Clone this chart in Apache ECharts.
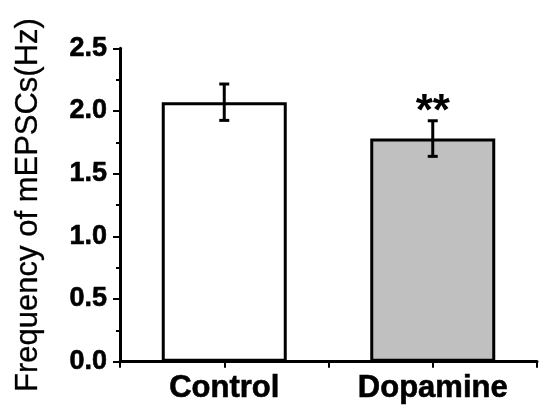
<!DOCTYPE html>
<html>
<head>
<meta charset="utf-8">
<script src="https://cdn.jsdelivr.net/npm/echarts@6/dist/echarts.min.js"></script>
<style>
  html, body { margin: 0; padding: 0; background: #fff; }
  #chart { width: 540px; height: 406px; }
</style>
</head>
<body>
<div id="chart"></div>
<script>
// Groups, mean frequencies and their SEM
const groups = ['Control', 'Dopamine'];
const means = [2.07, 1.78];
const sems = [0.145, 0.142];
const marks = ['', '**'];
const fills = ['#ffffff', '#c0c0c0'];

// Y axis range and ticks
const yMin = 0;
const yMax = 2.5;
const yStep = 0.5;

const FONT = 'Liberation Sans, Arial, sans-serif';

// each group sits in the middle of a unit-wide slot on a value x axis
const barData = means.map((m, i) => ({
  value: [i + 0.5, m],
  itemStyle: { color: fills[i] }
}));
const errData = means.map((m, i) => [i + 0.5, m - sems[i], m + sems[i], i]);

const chart = echarts.init(document.getElementById('chart'), null, { renderer: 'canvas' });

const boldText = { textBorderColor: '#000', textBorderWidth: 0.6 };

chart.setOption({
  animation: false,
  backgroundColor: '#fff',
  grid: { left: 120, top: 48.3, bottom: 44.3, right: -2.5, containLabel: false },
  xAxis: {
    type: 'value',
    min: 0,
    max: groups.length,
    interval: 0.5,
    splitLine: { show: false },
    axisLine: { show: true, onZero: false, lineStyle: { color: '#000', width: 3 } },
    axisTick: { show: true, inside: false, length: 6, lineStyle: { color: '#000', width: 2 } },
    axisLabel: Object.assign({
      margin: 11,
      color: '#000',
      fontFamily: FONT,
      fontWeight: 'bold',
      fontSize: 31,
      formatter: v => {
        const i = Math.floor(v);
        return Math.abs(v - i - 0.5) < 1e-6 ? groups[i] : '';
      }
    }, boldText)
  },
  yAxis: {
    type: 'value',
    min: yMin,
    max: yMax,
    interval: yStep,
    name: 'Frequency of mEPSCs(Hz)',
    nameLocation: 'middle',
    nameGap: 76,
    nameTextStyle: { color: '#000', fontFamily: FONT, fontSize: 31, textBorderColor: '#000', textBorderWidth: 0.3 },
    splitLine: { show: false },
    axisLine: { show: true, lineStyle: { color: '#000', width: 3 } },
    axisTick: { show: true, inside: false, length: 7, lineStyle: { color: '#000', width: 2 } },
    minorTick: { show: true, splitNumber: 2, length: 4, lineStyle: { color: '#000', width: 2 } },
    axisLabel: Object.assign({
      margin: 13,
      color: '#000',
      fontFamily: FONT,
      fontWeight: 'bold',
      fontSize: 27,
      formatter: v => v.toFixed(1)
    }, boldText)
  },
  series: [
    {
      type: 'bar',
      barWidth: 125,
      data: barData,
      itemStyle: { borderColor: '#000', borderWidth: 3 },
      z: 2
    },
    {
      type: 'custom',
      data: errData,
      z: 3,
      renderItem: (params, api) => {
        const x = api.value(0);
        const lo = api.coord([x, api.value(1)]);
        const hi = api.coord([x, api.value(2)]);
        const idx = api.value(3);
        const cap = 5;
        const style = { stroke: '#000', lineWidth: 3 };
        const children = [
          { type: 'line', shape: { x1: hi[0], y1: hi[1], x2: lo[0], y2: lo[1] }, style },
          { type: 'line', shape: { x1: hi[0] - cap, y1: hi[1], x2: hi[0] + cap, y2: hi[1] }, style },
          { type: 'line', shape: { x1: lo[0] - cap, y1: lo[1], x2: lo[0] + cap, y2: lo[1] }, style }
        ];
        if (marks[idx]) {
          children.push({
            type: 'text',
            style: {
              text: marks[idx],
              x: hi[0],
              y: hi[1] + 14,
              align: 'center',
              verticalAlign: 'bottom',
              fill: '#000',
              font: 'bold 44px ' + FONT
            }
          });
        }
        return { type: 'group', children };
      }
    }
  ]
});
</script>
</body>
</html>
